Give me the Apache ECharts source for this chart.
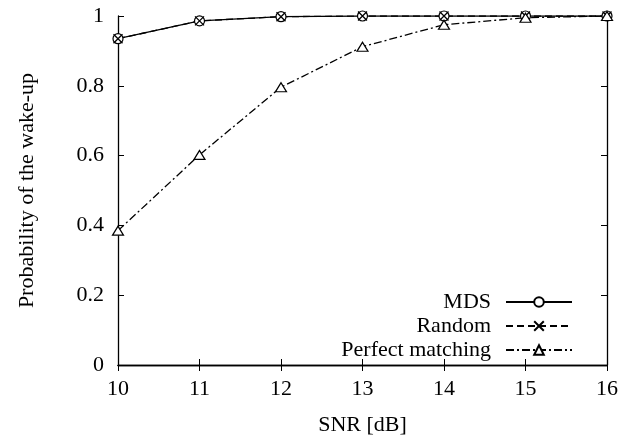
<!DOCTYPE html>
<html><head><meta charset="utf-8">
<script src="https://cdn.jsdelivr.net/npm/echarts@6/dist/echarts.min.js"></script>
<style>html,body{margin:0;padding:0;background:#fff}#c{width:633px;height:439px}</style>
</head><body><div id="c"></div>
<script>
const snr = [10, 11, 12, 13, 14, 15, 16];
const mds = [0.935, 0.986, 0.998, 1.0, 1.0, 1.0, 1.0];
const randomSel = [0.935, 0.986, 0.998, 1.0, 1.0, 1.0, 1.0];
const perfect = [0.385, 0.602, 0.796, 0.912, 0.975, 0.995, 1.0];
const yTicks = [0, 0.2, 0.4, 0.6, 0.8, 1];

const font = 'Liberation Serif';
const fs = 22;
const chart = echarts.init(document.getElementById('c'));
const pair = a => a.map((v, i) => [snr[i], v]);
const crossPath = 'path://M0,0L10,10M10,0L0,10';
chart.setOption({
  animation: false,
  grid: {left: 118, right: 26, top: 16, bottom: 74, containLabel: false, outerBoundsMode: 'none'},
  legend: {
    right: 55, bottom: 73, orient: 'vertical', align: 'right',
    itemWidth: 66, itemHeight: 12, itemGap: 2,
    textStyle: {fontFamily: font, fontSize: fs, color: '#000', padding: [0, 10, 0, 0]},
    data: ['MDS', 'Random', 'Perfect matching']
  },
  xAxis: [{
    type: 'value', min: 10, max: 16, interval: 1,
    name: 'SNR [dB]', nameLocation: 'middle', nameGap: 49,
    nameTextStyle: {fontFamily: font, fontSize: fs, color: '#000'},
    axisLine: {lineStyle: {color: '#000', width: 1.3}},
    axisTick: {inside: true, length: 6, lineStyle: {color: '#000'}},
    axisLabel: {fontFamily: font, fontSize: fs, color: '#000', margin: 13},
    splitLine: {show: false}
  }, {
    type: 'value', min: 10, max: 16, interval: 1, position: 'top',
    axisLine: {lineStyle: {color: '#000', width: 1.3}},
    axisTick: {inside: true, length: 6, lineStyle: {color: '#000'}},
    axisLabel: {show: false}, splitLine: {show: false}
  }],
  yAxis: [{
    type: 'value', min: 0, max: 1, interval: 0.2,
    name: 'Probability of the wake-up', nameLocation: 'middle', nameGap: 80,
    nameTextStyle: {fontFamily: font, fontSize: fs, color: '#000'},
    axisLine: {show: true, lineStyle: {color: '#000', width: 1.3}},
    axisTick: {show: true, inside: true, length: 6, lineStyle: {color: '#000'}},
    axisLabel: {fontFamily: font, fontSize: fs, color: '#000', margin: 14,
      formatter: v => yTicks.includes(+v.toFixed(1)) ? String(+v.toFixed(1)) : ''},
    splitLine: {show: false}
  }, {
    type: 'value', min: 0, max: 1, interval: 0.2, position: 'right',
    axisLine: {show: true, lineStyle: {color: '#000', width: 1.3}},
    axisTick: {show: true, inside: true, length: 6, lineStyle: {color: '#000'}},
    axisLabel: {show: false}, splitLine: {show: false}
  }],
  series: [{
    name: 'MDS', type: 'line', data: pair(mds),
    symbol: 'circle', symbolSize: 10,
    lineStyle: {color: '#000', width: 1.3, type: 'solid'},
    itemStyle: {color: '#fff', borderColor: '#000', borderWidth: 1.2}
  }, {
    name: 'Random', type: 'line', data: pair(randomSel),
    symbol: crossPath, symbolSize: 9,
    lineStyle: {color: '#000', width: 1.3, type: [7, 4]},
    itemStyle: {color: 'none', borderColor: '#000', borderWidth: 1.3}
  }, {
    name: 'Perfect matching', type: 'line', data: pair(perfect),
    symbol: 'triangle', symbolSize: [11, 9],
    lineStyle: {color: '#000', width: 1.3, type: [8, 3, 2, 3]},
    itemStyle: {color: '#fff', borderColor: '#000', borderWidth: 1.2}
  }]
});
</script></body></html>
